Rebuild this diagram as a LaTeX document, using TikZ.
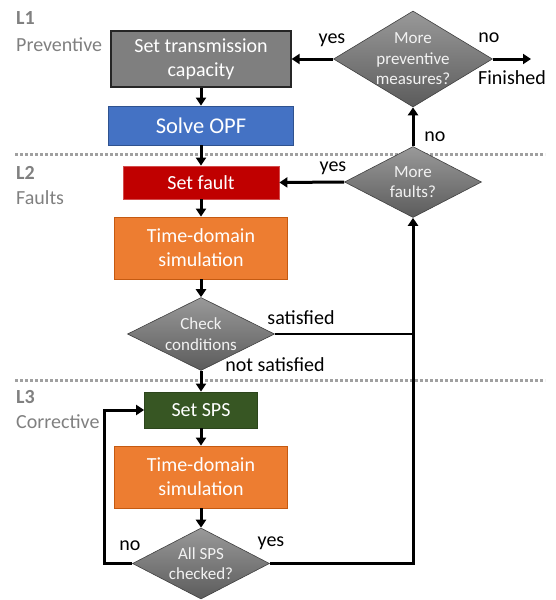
\documentclass[tikz,border=0pt]{standalone}
\usepackage{fontspec}
\setmainfont{Carlito}
\usetikzlibrary{shapes.geometric,arrows.meta}
\definecolor{boxgray}{HTML}{7F7F7F}
\definecolor{boxblue}{HTML}{4472C4}
\definecolor{boxblueb}{HTML}{2F528F}
\definecolor{boxred}{HTML}{C00000}
\definecolor{boxorange}{HTML}{ED7D31}
\definecolor{boxorangeb}{HTML}{C55A11}
\definecolor{boxgreen}{HTML}{375623}
\definecolor{lvlgray}{HTML}{808080}
\definecolor{dotgray}{HTML}{A0A0A0}
\tikzset{
  box/.style={rectangle, inner sep=0pt, align=center, text=white,
    font=\fontsize{20}{24}\selectfont, line width=0.8pt},
  dec/.style={diamond, inner sep=0pt, draw=black!75, line width=0.6pt,
    top color=black!40, bottom color=black!64},
  dectext/.style={align=center, text=white!95!black, font=\fontsize{17}{20.5}\selectfont},
  lbl/.style={font=\fontsize{20}{24}\selectfont, inner sep=0pt},
  lvl/.style={font=\fontsize{20}{24}\selectfont, text=lvlgray, anchor=west, inner sep=0pt},
  arr/.style={line width=3pt, -{Triangle[length=8pt,width=10pt]}},
  ln/.style={line width=3pt},
  sep/.style={dotgray, line width=3pt, dash pattern=on 3pt off 2pt},
}
\begin{document}
\begin{tikzpicture}[x=1pt,y=-1pt]
\useasboundingbox (0,0) rectangle (555,600);
% separators
\draw[sep] (15,154) -- (545,154);
\draw[sep] (15,380) -- (545,380);
% level labels
\node[lvl, font=\fontsize{20}{24}\selectfont\bfseries] (l1) at (16,18) {L1};
\node[lvl] (l1t) at (16,45) {Preventive};
\node[lvl, font=\fontsize{20}{24}\selectfont\bfseries] (l2) at (16,173) {L2};
\node[lvl] (l2t) at (16,198) {Faults};
\node[lvl, font=\fontsize{20}{24}\selectfont\bfseries] (l3) at (16,397) {L3};
\node[lvl] (l3t) at (16,422) {Corrective};
% boxes
\node[box, fill=boxgray, draw=black!85, line width=1.2pt, minimum width=180pt, minimum height=56pt] (tc) at (201,59) {Set transmission\\capacity};
\node[box, fill=boxblue, draw=boxblueb, minimum width=185pt, minimum height=39pt, font=\fontsize{22.5}{27}\selectfont] (opf) at (201,125.5) {Solve OPF};
\node[box, fill=boxred, draw=boxred!70!white, minimum width=156pt, minimum height=33pt] (fault) at (201,182.5) {Set fault};
\node[box, fill=boxorange, draw=boxorangeb, minimum width=173pt, minimum height=62pt] (tds1) at (201,248) {Time-domain\\simulation};
\node[box, fill=boxgreen, draw=boxgreen!80!black, minimum width=113pt, minimum height=36pt] (sps) at (201,410) {Set SPS};
\node[box, fill=boxorange, draw=boxorangeb, minimum width=173pt, minimum height=62pt] (tds2) at (201,477) {Time-domain\\simulation};
% decisions
\node[dec, minimum width=159pt, minimum height=96pt,
  label={[dectext, name=mpt]center:More\\preventive\\measures?}] (mp) at (413,59) {};
\node[dec, minimum width=137pt, minimum height=71pt,
  label={[dectext, name=mft]center:More\\faults?}] (mf) at (413,182) {};
\node[dec, minimum width=147pt, minimum height=73pt,
  label={[dectext, name=cct]center:Check\\conditions}] (cc) at (201,334) {};
\node[dec, minimum width=137pt, minimum height=71pt,
  label={[dectext, name=ast]center:All SPS\\checked?}] (as) at (201,563.5) {};
% coordinates
\coordinate (fin) at (531,59);
\coordinate (join) at (413,334);
\coordinate (yesc) at (413,563.5);
\coordinate (noc1) at (104,563.5);
\coordinate (noc2) at (104,410);
% connectors
\draw[arr] (tc) -- (opf);
\draw[arr] (opf) -- (fault);
\draw[arr] (fault) -- (tds1);
\draw[arr] (tds1) -- (cc);
\draw[arr] (cc) -- (sps);
\draw[arr] (sps) -- (tds2);
\draw[arr] (tds2) -- (as);
\draw[arr] (as.west) -- (noc1) -- (noc2) -- (sps.west);
\draw[arr] (as.east) -- (yesc) -- (mf.south);
\draw[line width=2.2pt] (cc.east) -- (join);
\draw[arr] (mf.west) -- (fault.east);
\draw[arr] (mf.north) -- (mp.south);
\draw[arr] (mp.west) -- (tc.east);
\draw[arr] (mp.east) -- (fin);
% edge labels
\node[lbl] (y1) at (332,40) {yes};
\node[lbl] (n1) at (489,38) {no};
\node[lbl] (fn) at (512,78) {Finished};
\node[lbl] (n2) at (435,137) {no};
\node[lbl] (y2) at (333,168) {yes};
\node[lbl] (sat) at (301,318) {satisfied};
\node[lbl] (nsat) at (275,365) {not satisfied};
\node[lbl] (n3) at (130,546) {no};
\node[lbl] (y3) at (271,543) {yes};
\end{tikzpicture}
\end{document}
